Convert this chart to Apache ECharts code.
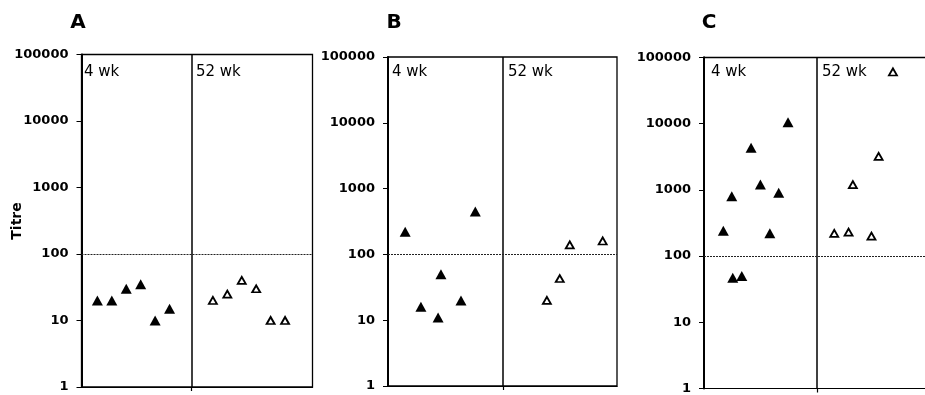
<!DOCTYPE html>
<html>
<head>
<meta charset="utf-8">
<script src="https://cdn.jsdelivr.net/npm/echarts@6/dist/echarts.min.js"></script>
<style>
html,body{margin:0;padding:0;background:#fff;}
#c{width:925px;height:395px;}
</style>
</head>
<body>
<div id="c"></div>
<script>
// ---- data ----
const panelLetters = ['A', 'B', 'C'];
const weekLabels = ['4 wk', '52 wk'];
const yTicks = [1, 10, 100, 1000, 10000, 100000];
const threshold = 100;
const axisTitle = 'Titre';

// horizontal positions (subject slots, jittered as in the source) and titres
const A_wk4_pos = [1.1, 2.1, 3.1, 4.1, 5.1, 6.1];
const A_wk4_val = [20, 20, 30, 35, 10, 15];
const A_wk52_pos = [9.1, 10.1, 11.1, 12.1, 13.1, 14.1];
const A_wk52_val = [20, 25, 40, 30, 10, 10];

const B_wk4_pos = [1.2, 2.3, 3.5, 3.7, 5.1, 6.1];
const B_wk4_val = [220, 16, 11, 50, 20, 450];
const B_wk52_pos = [11.1, 12.0, 12.7, 15.0];
const B_wk52_val = [20, 43, 140, 160];

const C_wk4_pos = [1.35, 1.94, 2.01, 2.64, 3.29, 3.94, 4.6, 5.22, 5.87];
const C_wk4_val = [240, 800, 47, 50, 4300, 1200, 220, 900, 10500];
const C_wk52_pos = [9.1, 10.1, 10.4, 11.7, 12.2, 13.2];
const C_wk52_val = [220, 230, 1200, 200, 3200, 60000];

const dividerPos = [7.63, 8.04, 7.9];
const xMax = [16, 16, 15.44];

// ---- build ----
const pos4 = [A_wk4_pos, B_wk4_pos, C_wk4_pos];
const val4 = [A_wk4_val, B_wk4_val, C_wk4_val];
const pos52 = [A_wk52_pos, B_wk52_pos, C_wk52_pos];
const val52 = [A_wk52_val, B_wk52_val, C_wk52_val];

const gridBoxes = [
  {left: 81.5, top: 54.5, width: 231, height: 332.5},
  {left: 388, top: 57, width: 229, height: 329},
  {left: 704, top: 57.3, width: 221, height: 333.5}
];
// panel C runs off the right edge of the page: no right frame line
const showFrame = [true, true, false];

const labelFont = 'DejaVu Sans';
const grids = [], xAxes = [], yAxes = [], series = [], graphics = [];

gridBoxes.forEach((g, i) => {
  grids.push(Object.assign({show: showFrame[i], borderColor: '#000', borderWidth: 1.3, backgroundColor: 'transparent'}, g));
  xAxes.push({
    gridIndex: i, type: 'value', min: 0, max: xMax[i],
    axisLine: {show: true, onZero: false, lineStyle: {color: '#000', width: 1.2}},
    axisTick: {show: true, customValues: [dividerPos[i]], length: 4, lineStyle: {color: '#000', width: 1.2}},
    axisLabel: {show: false}, splitLine: {show: false}
  });
  yAxes.push({
    gridIndex: i, type: 'log', logBase: 10, min: yTicks[0], max: yTicks[yTicks.length - 1],
    axisLine: {show: true, lineStyle: {color: '#000', width: 2}},
    axisTick: {show: true, length: 5, lineStyle: {color: '#000', width: 1}},
    axisLabel: {show: true, margin: 13, color: '#000', fontFamily: labelFont, fontWeight: 'bold', fontSize: 13,
      formatter: v => String(Math.round(v))},
    splitLine: {show: false}, minorTick: {show: false}
  });
  const lines = [
    {xAxis: dividerPos[i], lineStyle: {color: '#000', width: 1.5, type: 'solid'}},
    {yAxis: threshold, lineStyle: {color: '#222', width: 1, type: [2, 1]}}
  ];
  if (!showFrame[i]) {
    lines.push({yAxis: yTicks[yTicks.length - 1], lineStyle: {color: '#000', width: 1.3, type: 'solid'}});
  }
  series.push({
    type: 'scatter', xAxisIndex: i, yAxisIndex: i,
    symbol: 'triangle', symbolSize: [11, 10],
    itemStyle: {color: '#000', opacity: 1},
    data: pos4[i].map((p, k) => [p, val4[i][k]]),
    markLine: {
      silent: true, symbol: 'none', animation: false,
      label: {show: false},
      data: lines
    },
    z: 3
  });
  series.push({
    type: 'scatter', xAxisIndex: i, yAxisIndex: i,
    symbol: 'triangle', symbolSize: [8, 7],
    itemStyle: {color: '#fff', borderColor: '#000', borderWidth: 1.8, opacity: 1},
    data: pos52[i].map((p, k) => [p, val52[i][k]]),
    z: 3
  });
});

const letterX = [78, 394, 709];
panelLetters.forEach((l, i) => {
  graphics.push({type: 'text', x: letterX[i], y: 23,
    style: {text: l, font: 'bold 20px "DejaVu Sans"', fill: '#000', align: 'center', verticalAlign: 'middle'}});
});
const wk4X = [84, 392, 711];
const wk52X = [196, 508, 822];
for (let i = 0; i < 3; i++) {
  graphics.push({type: 'text', x: wk4X[i], y: 72,
    style: {text: weekLabels[0], font: '15px "DejaVu Sans"', fill: '#000', align: 'left', verticalAlign: 'middle'}});
  graphics.push({type: 'text', x: wk52X[i], y: 72,
    style: {text: weekLabels[1], font: '15px "DejaVu Sans"', fill: '#000', align: 'left', verticalAlign: 'middle'}});
}
graphics.push({type: 'text', x: 17.5, y: 221, rotation: Math.PI / 2,
  style: {text: axisTitle, font: 'bold 14px "DejaVu Sans"', fill: '#000', align: 'center', verticalAlign: 'middle'}});

const chart = echarts.init(document.getElementById('c'), null, {renderer: 'canvas'});
chart.setOption({
  animation: false,
  backgroundColor: '#fff',
  grid: grids, xAxis: xAxes, yAxis: yAxes, series: series, graphic: graphics
});
</script>
</body>
</html>
